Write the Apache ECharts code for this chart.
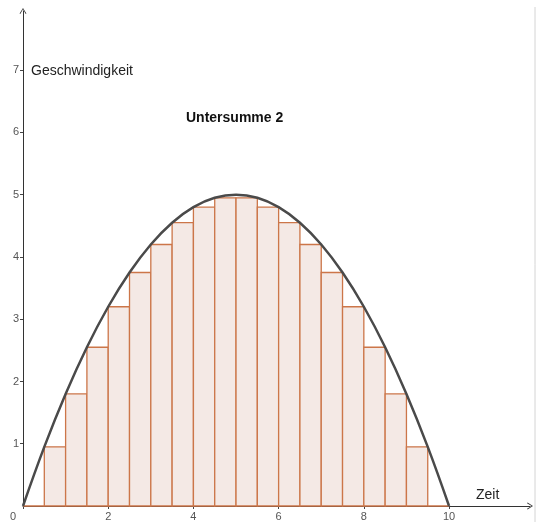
<!DOCTYPE html>
<html>
<head>
<meta charset="utf-8">
<script src="https://cdn.jsdelivr.net/npm/echarts@6/dist/echarts.min.js"></script>
<style>
  html, body { margin: 0; padding: 0; background: #fff; }
  #chart { width: 539px; height: 522px; }
</style>
</head>
<body>
<div id="chart"></div>
<script>
// Untersumme: Streifenbreite 0.5, Höhe = kleinster Funktionswert im Streifen
var stripStart = [0, 0.5, 1, 1.5, 2, 2.5, 3, 3.5, 4, 4.5, 5, 5.5, 6, 6.5, 7, 7.5, 8, 8.5, 9, 9.5];
var stripWidth = 0.5;
var stripHeight = [0, 0.95, 1.8, 2.55, 3.2, 3.75, 4.2, 4.55, 4.8, 4.95,
                   4.95, 4.8, 4.55, 4.2, 3.75, 3.2, 2.55, 1.8, 0.95, 0];
// Punkte auf der Kurve (Geschwindigkeit über Zeit)
var curveT = [0, 0.5, 1, 1.5, 2, 2.5, 3, 3.5, 4, 4.5, 5, 5.5, 6, 6.5, 7, 7.5, 8, 8.5, 9, 9.5, 10];
var curveV = [0, 0.95, 1.8, 2.55, 3.2, 3.75, 4.2, 4.55, 4.8, 4.95, 5,
              4.95, 4.8, 4.55, 4.2, 3.75, 3.2, 2.55, 1.8, 0.95, 0];
var xTicks = [0, 2, 4, 6, 8, 10];
var yTicks = [1, 2, 3, 4, 5, 6, 7];

var myChart = echarts.init(document.getElementById("chart"));

var stripData = stripStart.map(function (s, i) {
  return [s, s + stripWidth, stripHeight[i]];
});
var curveData = curveT.map(function (t, i) {
  return [t, curveV[i]];
});

var arrowPath = 'path://M5,0 L10,8 L9,8.8 L5,2 L1,8.8 L0,8 Z';
var font = 'Liberation Sans, Arial, sans-serif';

var option = {
  animation: false,
  title: {
    text: 'Untersumme 2',
    left: 181,
    top: 106,
    textStyle: { fontFamily: font, fontSize: 14, fontWeight: 'bold', color: '#111' }
  },
  grid: { left: 23, top: 11, width: 507, height: 496 },
  xAxis: {
    type: 'value',
    min: 0,
    max: 11.9,
    splitLine: { show: false },
    axisLine: {
      lineStyle: { color: '#333', width: 1 },
      symbol: ['none', arrowPath],
      symbolSize: [8, 6]
    },
    axisTick: { length: 3, lineStyle: { color: '#444' }, customValues: xTicks },
    axisLabel: {
      customValues: xTicks,
      margin: 5,
      fontFamily: font,
      fontSize: 11,
      color: '#555',
      formatter: function (v) {
        return v === 0 ? '{z|0}' : String(v);
      },
      rich: { z: { padding: [0, 20, 0, 0], fontFamily: font, fontSize: 11, color: '#555' } }
    }
  },
  yAxis: {
    type: 'value',
    min: 0,
    max: 7.95,
    splitLine: { show: false },
    axisLine: {
      show: true,
      lineStyle: { color: '#333', width: 1 },
      symbol: ['none', arrowPath],
      symbolSize: [8, 6]
    },
    axisTick: { show: true, length: 3, lineStyle: { color: '#444' }, customValues: yTicks },
    axisLabel: {
      customValues: yTicks,
      margin: 4,
      fontFamily: font,
      fontSize: 11,
      color: '#555'
    }
  },
  series: [
    {
      type: 'custom',
      data: stripData,
      renderItem: function (params, api) {
        var p0 = api.coord([api.value(0), 0]);
        var p1 = api.coord([api.value(1), api.value(2)]);
        return {
          type: 'rect',
          shape: { x: p0[0], y: p1[1], width: p1[0] - p0[0], height: p0[1] - p1[1] },
          style: { fill: '#f4e9e5', stroke: '#cc7649', lineWidth: 1.3 }
        };
      },
      z: 2
    },
    {
      type: 'line',
      data: curveData,
      smooth: 0.4,
      showSymbol: false,
      lineStyle: { color: '#4a4a4a', width: 2.5 },
      z: 3
    }
  ],
  graphic: [
    {
      type: 'text',
      left: 31,
      top: 64,
      style: { text: 'Geschwindigkeit', font: '14px ' + font, fill: '#222' }
    },
    {
      type: 'text',
      left: 476,
      top: 488,
      style: { text: 'Zeit', font: '14px ' + font, fill: '#222' }
    },
    {
      type: 'line',
      shape: { x1: 535, y1: 7, x2: 535, y2: 522 },
      style: { stroke: '#d4d4d4', lineWidth: 1 }
    }
  ]
};

myChart.setOption(option);
</script>
</body>
</html>
